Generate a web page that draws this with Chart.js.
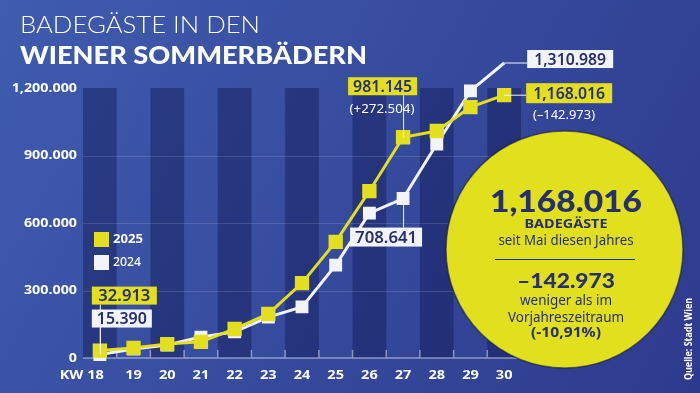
<!DOCTYPE html>
<html>
<head>
<meta charset="utf-8">
<script src="https://cdn.jsdelivr.net/npm/chart.js@4/dist/chart.umd.min.js"></script>
<style>
html, body { margin: 0; padding: 0; background: #34459c; }
#wrap { width: 700px; height: 393px; position: relative; }
</style>
</head>
<body>
<div id="wrap"><canvas id="chart"></canvas></div>
<script>
// Kalenderwochen
const weeks = ['KW 18', '19', '20', '21', '22', '23', '24', '25', '26', '27', '28', '29', '30'];
// Badegäste kumuliert
const visitors2025 = [32913, 45000, 62000, 72000, 129000, 196000, 333000, 516000, 742000, 981145, 1009000, 1115000, 1168016];
const visitors2024 = [15390, 40000, 58000, 93000, 116000, 182000, 227000, 413000, 644000, 708641, 951000, 1187000, 1310989];
const yTicks = [0, 300000, 600000, 900000, 1200000];
const yTickLabels = ['0', '300.000', '600.000', '900.000', '1,200.000'];

const yellow = '#e3df1f';
const white = '#f2f4fa';
const navy = '#26306f';

// beschriftete Punkte: [dataset, index, text, box dx, box dy, box w, box h, farbe, textbreite]
const callouts = [
    [0, 0, '32.913', -8, -64, 65, 18, yellow, 52],
    [1, 0, '15.390', -8, -45, 60, 18, white, 50],
    [0, 9, '981.145', -55, -60, 69, 18, yellow, 59],
    [1, 9, '708.641', -53, 29, 72, 19, white, 62],
    [1, 12, '1,310.989', 23, -13, 86, 18, white, 72],
    [0, 12, '1,168.016', 22, -12, 86, 20, yellow, 72],
];

function txt(ctx, s, x, y, font, color, w, align, sx) {
    ctx.save();
    ctx.font = font;
    ctx.fillStyle = color;
    ctx.textAlign = align || 'left';
    const m = ctx.measureText(s).width;
    ctx.translate(x, y);
    if (w) ctx.scale(w / m, 1);
    else if (sx) ctx.scale(sx, 1);
    ctx.fillText(s, 0, 0);
    ctx.restore();
}

const backdrop = {
    id: 'backdrop',
    beforeDraw(chart) {
        const { ctx, chartArea: a, scales } = chart;
        const g = ctx.createLinearGradient(0, 0, 700, 393);
        g.addColorStop(0, '#3f5cae');
        g.addColorStop(1, '#2e3a8d');
        ctx.fillStyle = g;
        ctx.fillRect(0, 0, chart.width, chart.height);

        const step = (a.right - a.left) / weeks.length;
        ctx.fillStyle = 'rgba(14, 22, 78, 0.42)';
        weeks.forEach((w, i) => {
            if (i % 2 === 0) {
                const cx = scales.x.getPixelForValue(i);
                ctx.fillRect(cx - step / 2, a.top, step, a.bottom - a.top);
            }
        });

        ctx.strokeStyle = 'rgba(255,255,255,0.13)';
        ctx.lineWidth = 1;
        yTicks.slice(1, -1).forEach(v => {
            const y = Math.round(scales.y.getPixelForValue(v)) + 0.5;
            ctx.beginPath();
            ctx.moveTo(a.left, y);
            ctx.lineTo(a.right, y);
            ctx.stroke();
        });

        // x-Achse mit kleinen Strichen
        ctx.strokeStyle = 'rgba(255,255,255,0.45)';
        ctx.lineWidth = 1.5;
        ctx.beginPath();
        ctx.moveTo(a.left, a.bottom);
        ctx.lineTo(a.right, a.bottom);
        for (let i = 1; i < weeks.length; i++) {
            const x = a.left + step * i;
            ctx.moveTo(x, a.bottom);
            ctx.lineTo(x, a.bottom - 8);
        }
        ctx.stroke();

        // Achsenbeschriftung
        ctx.textBaseline = 'middle';
        yTicks.forEach((v, i) => {
            txt(ctx, yTickLabels[i], 77, scales.y.getPixelForValue(v), 'bold 13px "Noto Sans"', '#fff', null, 'right', 1.1);
        });
        ctx.textBaseline = 'alphabetic';
        weeks.forEach((w, i) => {
            const x = scales.x.getPixelForValue(i);
            if (i === 0) txt(ctx, w, x + 4, 379, 'bold 13px "Noto Sans"', '#fff', null, 'right', 1.12);
            else txt(ctx, w, x, 379, 'bold 13px "Noto Sans"', '#fff', null, 'center', 1.12);
        });
    },
    afterDatasetsDraw(chart) {
        const { ctx } = chart;

        // Callouts
        callouts.forEach(([ds, idx, label, dx, dy, w, h, col, tw]) => {
            const p = chart.getDatasetMeta(ds).data[idx];
            const bx = p.x + dx, by = p.y + dy;
            ctx.strokeStyle = white;
            ctx.lineWidth = 1;
            ctx.beginPath();
            if (dx > 0) {
                ctx.moveTo(p.x, p.y);
                ctx.lineTo(bx, p.y);
            } else if (dy < 0) {
                ctx.moveTo(p.x + 0.5, by + h);
                ctx.lineTo(p.x + 0.5, p.y);
            } else {
                ctx.moveTo(p.x + 0.5, by);
                ctx.lineTo(p.x + 0.5, p.y);
            }
            ctx.stroke();
            ctx.fillStyle = col;
            ctx.fillRect(bx, by, w, h);
            ctx.textBaseline = 'middle';
            txt(ctx, label, bx + w / 2, by + h / 2 + 1, '600 16px "Noto Sans"', navy, tw, 'center');
            ctx.textBaseline = 'alphabetic';
        });
        txt(ctx, '(+272.504)', 382, 113, '13px "Noto Sans"', '#fff', 65, 'center');
        txt(ctx, '(\u2013142.973)', 564, 119, '13px "Noto Sans"', '#fff', 62, 'center');

        // Legende
        ctx.fillStyle = yellow;
        ctx.fillRect(94, 232, 15, 15);
        ctx.fillStyle = white;
        ctx.fillRect(94, 255, 15, 15);
        ctx.textBaseline = 'middle';
        txt(ctx, '2025', 113, 240, 'bold 12px "Noto Sans"', '#fff', 30);
        txt(ctx, '2024', 113, 263, '500 12px "Noto Sans"', '#fff', 28);
        ctx.textBaseline = 'alphabetic';

        // Kreis
        ctx.beginPath();
        ctx.arc(564.5, 249.5, 118.5, 0, Math.PI * 2);
        ctx.fillStyle = '#e2e01c';
        ctx.fill();
        ctx.strokeStyle = 'rgba(20,25,70,0.6)';
        ctx.lineWidth = 1.5;
        ctx.stroke();
        txt(ctx, '1,168.016', 566, 212, '900 31px Lato', navy, 152, 'center');
        txt(ctx, 'BADEG\u00c4STE', 566, 228, 'bold 12px "Noto Sans"', navy, 83, 'center');
        txt(ctx, 'seit Mai diesen Jahres', 566, 245, '14px "Noto Sans"', navy, 135, 'center');
        ctx.strokeStyle = navy;
        ctx.lineWidth = 1;
        ctx.beginPath();
        ctx.moveTo(495, 259.5);
        ctx.lineTo(635, 259.5);
        ctx.stroke();
        txt(ctx, '\u2013142.973', 566, 288, '900 20px Lato', navy, 98, 'center');
        txt(ctx, 'weniger als im', 566, 305, '14px "Noto Sans"', navy, 92, 'center');
        txt(ctx, 'Vorjahreszeitraum', 566, 322, '14px "Noto Sans"', navy, 116, 'center');
        txt(ctx, '(-10,91%)', 566, 337, 'bold 14px "Noto Sans"', navy, 70, 'center');

        // Quelle
        ctx.save();
        ctx.translate(689, 339);
        ctx.rotate(-Math.PI / 2);
        ctx.textBaseline = 'middle';
        txt(ctx, 'Quelle: Stadt Wien', 0, 0, 'bold 10px "Noto Sans"', '#fff', 82, 'center');
        ctx.restore();

        // Titel
        txt(ctx, 'BADEG\u00c4STE IN DEN', 20, 33, '300 24px Lato', '#fff', 240);
        txt(ctx, 'WIENER SOMMERB\u00c4DERN', 20, 64, '900 24px Lato', '#fff', 347);
    }
};

new Chart(document.getElementById('chart').getContext('2d'), {
    type: 'line',
    data: {
        labels: weeks,
        datasets: [
            {
                label: '2025',
                data: visitors2025,
                borderColor: yellow,
                backgroundColor: yellow,
                pointBorderColor: yellow,
                borderWidth: 3,
                pointStyle: 'rect',
                pointRadius: 8,
                clip: false,
            },
            {
                label: '2024',
                data: visitors2024,
                borderColor: white,
                backgroundColor: white,
                pointBorderColor: white,
                borderWidth: 3,
                pointStyle: 'rect',
                pointRadius: 7,
                clip: false,
            },
        ],
    },
    plugins: [backdrop],
    options: {
        responsive: true,
        maintainAspectRatio: false,
        animation: false,
        layout: { padding: { left: 83, right: 179, top: 88, bottom: 35 } },
        plugins: { legend: { display: false }, tooltip: { enabled: false } },
        scales: {
            x: { display: false, offset: true },
            y: { display: false, min: 0, max: 1200000 },
        },
    },
});
</script>
</body>
</html>
